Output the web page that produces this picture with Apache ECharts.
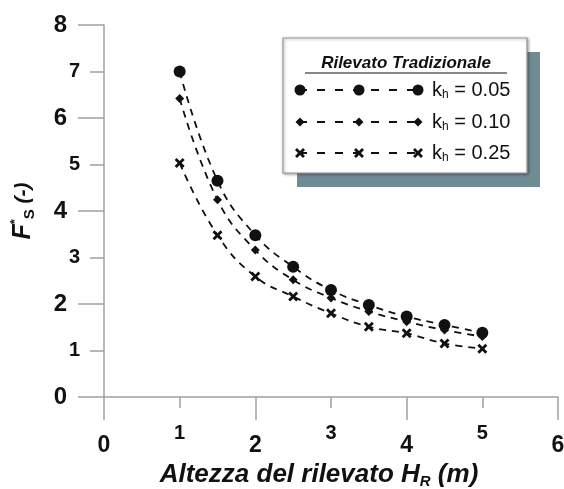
<!DOCTYPE html>
<html>
<head>
<meta charset="utf-8">
<script src="https://cdn.jsdelivr.net/npm/echarts@6/dist/echarts.min.js"></script>
<style>html,body{margin:0;padding:0;background:#fff}#c{width:564px;height:489px}</style>
</head>
<body>
<div id="c"></div>
<script>
var heights = [1, 1.5, 2, 2.5, 3, 3.5, 4, 4.5, 5];
var fs005 = [7.0, 4.65, 3.48, 2.80, 2.30, 1.98, 1.73, 1.55, 1.38];
var fs010 = [6.42, 4.24, 3.16, 2.52, 2.13, 1.84, 1.62, 1.44, 1.30];
var fs025 = [5.03, 3.48, 2.59, 2.16, 1.80, 1.51, 1.37, 1.15, 1.04];
var seriesNames = ['k_h = 0.05', 'k_h = 0.10', 'k_h = 0.25'];
var legendTitle = 'Rilevato Tradizionale';
var xTitle = 'Altezza del rilevato H';
var xTitleSub = 'R';
var xTitleUnit = ' (m)';

var FONT = '"Liberation Sans", Arial, sans-serif';
var XPTS = [[2,0],[5,3],[8,0],[10,2],[7,5],[10,8],[8,10],[5,7],[2,10],[0,8],[3,5],[0,2]];
var XSYM = 'path://M2,0 L5,3 L8,0 L10,2 L7,5 L10,8 L8,10 L5,7 L2,10 L0,8 L3,5 L0,2 Z';
var symbols = ['circle', 'diamond', XSYM];
var symSizes = [12, 9, 10];
var datas = [fs005, fs010, fs025];

function pairs(arr) { return heights.map(function (h, i) { return [h, arr[i]]; }); }

var axisLineStyle = { color: '#a0a0a0', width: 1.5 };

var chart = echarts.init(document.getElementById('c'), null, { renderer: 'canvas' });

var series = datas.map(function (d, i) {
  return {
    type: 'line', name: seriesNames[i], data: pairs(d),
    xAxisIndex: 0, yAxisIndex: 0,
    smooth: 0.45,
    symbol: symbols[i], symbolSize: symSizes[i],
    itemStyle: { color: '#111' },
    lineStyle: { color: '#111', width: 1.8, type: [7, 6] },
    z: 3
  };
});

// legend graphics
var lg = [];
lg.push({ type: 'rect', shape: { x: 297, y: 52, width: 243, height: 135 }, style: { fill: '#6f8c95' }, z: 10 });
lg.push({ type: 'rect', shape: { x: 283, y: 38, width: 244, height: 135 }, style: { fill: '#fff', stroke: '#9a9a9a', lineWidth: 1.2, shadowBlur: 3, shadowColor: 'rgba(0,0,0,0.35)', shadowOffsetX: 1, shadowOffsetY: 1 }, z: 11 });
lg.push({ type: 'text', x: 406, y: 63, style: { text: legendTitle, font: 'italic bold 17px ' + FONT, fill: '#111', align: 'center', verticalAlign: 'middle' }, z: 12 });
lg.push({ type: 'line', shape: { x1: 305, y1: 73, x2: 507, y2: 73 }, style: { stroke: '#111', lineWidth: 1.2 }, z: 12 });
var rowsY = [90, 122, 153];
var subs = ['0.05', '0.10', '0.25'];
rowsY.forEach(function (y, i) {
  lg.push({ type: 'line', shape: { x1: 299, y1: y, x2: 418, y2: y }, style: { stroke: '#111', lineWidth: 1.8, lineDash: [8, 10] }, z: 12 });
  [300, 359, 418].forEach(function (x) {
    if (i === 0) lg.push({ type: 'circle', shape: { cx: x, cy: y, r: 5.5 }, style: { fill: '#111' }, z: 13 });
    else if (i === 1) lg.push({ type: 'polygon', shape: { points: [[x, y - 4.5], [x + 4.5, y], [x, y + 4.5], [x - 4.5, y]] }, style: { fill: '#111' }, z: 13 });
    else lg.push({ type: 'polygon', shape: { points: XPTS.map(function (p) { return [x - 5 + p[0], y - 5 + p[1]]; }) }, style: { fill: '#111' }, z: 13 });
  });
  lg.push({ type: 'text', x: 432, y: y, z: 13, style: {
    text: '{k|k}{s|h}{k| = ' + subs[i] + '}',
    verticalAlign: 'middle',
    rich: {
      k: { font: '20px ' + FONT, fill: '#111', lineHeight: 22 },
      s: { font: '12px ' + FONT, fill: '#111', verticalAlign: 'bottom', lineHeight: 12, padding: [13, 0, 0, 0] }
    }
  } });
});

var option = {
  animation: false,
  backgroundColor: '#fff',
  grid: { left: 104, right: 6, top: 25, bottom: 92, containLabel: false, outerBoundsMode: 'none' },
  xAxis: [
    {
      type: 'value', min: 0, max: 6, interval: 1, position: 'bottom',
      axisLine: { lineStyle: axisLineStyle },
      axisTick: { length: 11, lineStyle: axisLineStyle },
      splitLine: { show: false },
      axisLabel: { margin: 26, fontFamily: FONT, fontWeight: 'bold', fontSize: 20, color: '#111',
        formatter: function (v) { return v % 2 === 1 ? String(v) : ''; } },
      name: '{t|' + xTitle + '}{s|' + xTitleSub + '}{t|' + xTitleUnit + '}',
      nameLocation: 'middle', nameGap: 64,
      nameTextStyle: {
        padding: [0, 24, 0, 0],
        rich: {
          t: { fontFamily: FONT, fontWeight: 'bold', fontStyle: 'italic', fontSize: 26, color: '#111', lineHeight: 28 },
          s: { fontFamily: FONT, fontWeight: 'bold', fontStyle: 'italic', fontSize: 15, color: '#111', verticalAlign: 'bottom', lineHeight: 15, padding: [14, 0, 0, 0] }
        }
      }
    },
    {
      type: 'value', min: 0, max: 6, interval: 2, position: 'bottom',
      axisLine: { show: false },
      axisTick: { length: 23, lineStyle: axisLineStyle },
      splitLine: { show: false },
      axisLabel: { margin: 37, fontFamily: FONT, fontWeight: 'bold', fontSize: 23, color: '#111' }
    }
  ],
  yAxis: [
    {
      type: 'value', min: 0, max: 8, interval: 1, position: 'left',
      axisLine: { show: true, lineStyle: axisLineStyle },
      axisTick: { show: true, length: 14, lineStyle: axisLineStyle },
      splitLine: { show: false },
      axisLabel: { margin: 24, fontFamily: FONT, fontWeight: 'bold', fontSize: 20, color: '#111',
        formatter: function (v) { return v % 2 === 1 ? String(v) : ''; } },
      name: '{f|F}{sup|*}{sub|S}{n| (-)}',
      nameLocation: 'middle', nameRotate: 90, nameGap: 67,
      nameTextStyle: {
        rich: {
          f: { fontFamily: FONT, fontWeight: 'bold', fontStyle: 'italic', fontSize: 25, color: '#111', lineHeight: 28 },
          sup: { fontFamily: FONT, fontWeight: 'bold', fontSize: 13, color: '#111', verticalAlign: 'top', lineHeight: 13, padding: [0, 0, 10, 0] },
          sub: { fontFamily: FONT, fontWeight: 'bold', fontSize: 15, color: '#111', verticalAlign: 'bottom', lineHeight: 15, padding: [10, 0, 0, 0] },
          n: { fontFamily: FONT, fontWeight: 'bold', fontStyle: 'italic', fontSize: 21, color: '#111', lineHeight: 28 }
        }
      }
    },
    {
      type: 'value', min: 0, max: 8, interval: 2, position: 'left',
      axisLine: { show: false },
      axisTick: { show: true, length: 26, lineStyle: axisLineStyle },
      splitLine: { show: false },
      axisLabel: { margin: 37, fontFamily: FONT, fontWeight: 'bold', fontSize: 24, color: '#111' }
    }
  ],
  series: series,
  graphic: lg
};
chart.setOption(option);
</script>
</body>
</html>
